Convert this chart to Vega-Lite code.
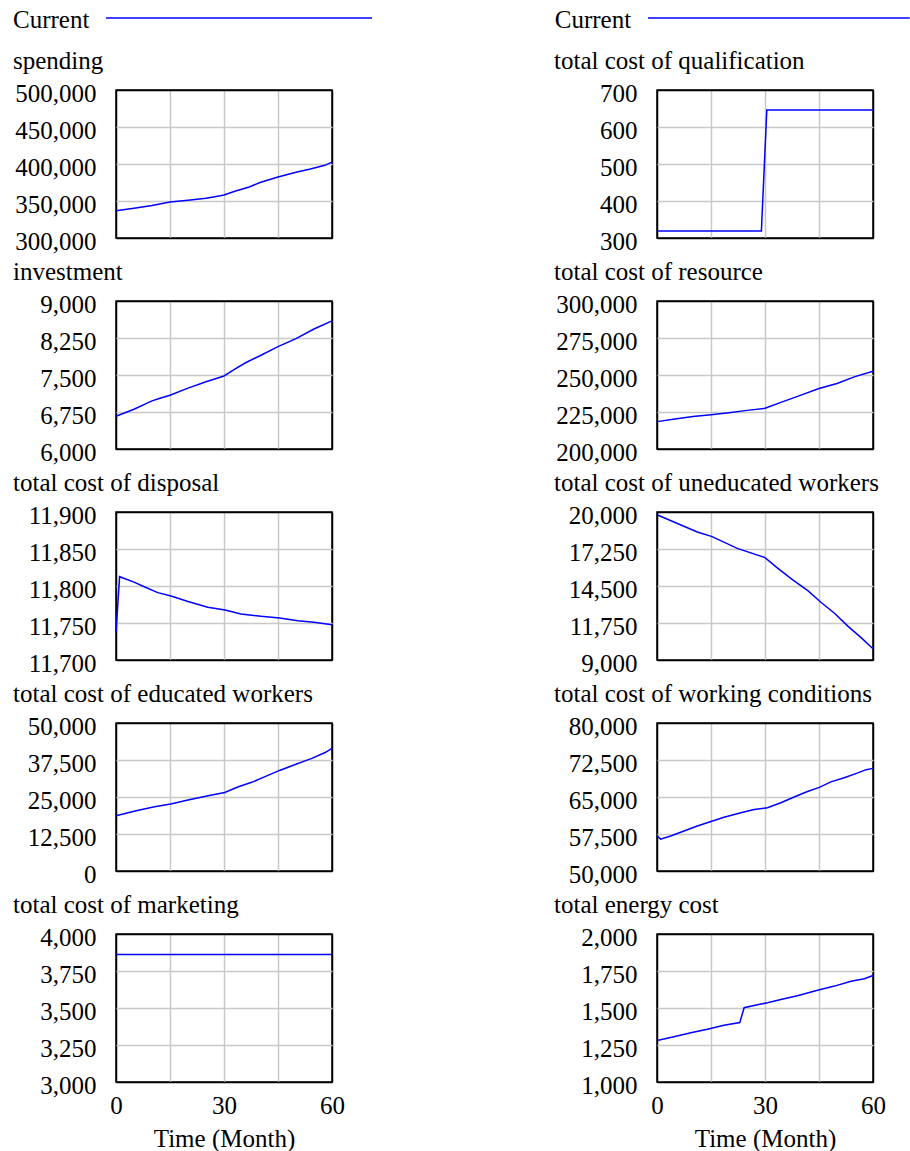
{
  "$schema": "https://vega.github.io/schema/vega-lite/v6.json",
  "background": "white",
  "padding": {"left": 12, "top": 8, "right": 0, "bottom": 0},
  "datasets": {
    "spending": [{"t":0,"v":336800},{"t":5,"v":340100},{"t":10,"v":343900},{"t":15,"v":348600},{"t":20,"v":350900},{"t":25,"v":353600},{"t":29,"v":357000},{"t":30,"v":358000},{"t":33,"v":363100},{"t":37,"v":369000},{"t":40,"v":375000},{"t":45,"v":382400},{"t":50,"v":388800},{"t":54,"v":393200},{"t":58,"v":398200},{"t":60,"v":402600}],
    "investment": [{"t":0,"v":6663},{"t":5,"v":6805},{"t":10,"v":6975},{"t":12,"v":7023},{"t":15,"v":7091},{"t":20,"v":7234},{"t":25,"v":7364},{"t":30,"v":7480},{"t":33,"v":7617},{"t":36,"v":7748},{"t":40,"v":7891},{"t":45,"v":8074},{"t":50,"v":8237},{"t":55,"v":8433},{"t":60,"v":8596}],
    "disposal": [{"t":0,"v":11737},{"t":1,"v":11812.6},{"t":5,"v":11805.2},{"t":8,"v":11798.7},{"t":11.6,"v":11791},{"t":15.3,"v":11786.4},{"t":20,"v":11779},{"t":25.5,"v":11771.4},{"t":30.3,"v":11767.7},{"t":34.7,"v":11762.3},{"t":40.3,"v":11759.1},{"t":45.4,"v":11756.8},{"t":50.5,"v":11753.2},{"t":55,"v":11751},{"t":60,"v":11747.7}],
    "educated": [{"t":0,"v":18640},{"t":5.6,"v":20340},{"t":10.7,"v":21700},{"t":15.2,"v":22610},{"t":20,"v":23980},{"t":25.6,"v":25430},{"t":30.2,"v":26510},{"t":34,"v":28450},{"t":37.7,"v":29960},{"t":41.4,"v":31900},{"t":45.6,"v":34060},{"t":49.8,"v":36000},{"t":54.4,"v":38050},{"t":58.1,"v":40020},{"t":60,"v":41450}],
    "marketing": [{"t":0,"v":3862},{"t":30,"v":3862},{"t":60,"v":3862}],
    "qualification": [{"t":0,"v":319},{"t":29,"v":319},{"t":30.5,"v":646},{"t":60,"v":646}],
    "resource": [{"t":0,"v":218500},{"t":5,"v":220200},{"t":10,"v":221900},{"t":15,"v":223100},{"t":20,"v":224500},{"t":25,"v":226100},{"t":30,"v":227500},{"t":35,"v":232000},{"t":40,"v":236400},{"t":45,"v":240900},{"t":50,"v":244300},{"t":55,"v":248900},{"t":60,"v":252500}],
    "uneducated": [{"t":0,"v":19800},{"t":11.2,"v":18514},{"t":15.3,"v":18173},{"t":22.3,"v":17299},{"t":30,"v":16610},{"t":33.5,"v":15828},{"t":37.7,"v":14950},{"t":41.9,"v":14150},{"t":45.6,"v":13275},{"t":49.3,"v":12475},{"t":53,"v":11517},{"t":56.7,"v":10661},{"t":60,"v":9831}],
    "working": [{"t":0,"v":57153},{"t":1,"v":56458},{"t":4,"v":57153},{"t":7.5,"v":58114},{"t":11,"v":59068},{"t":15,"v":60023},{"t":18.6,"v":60909},{"t":23.3,"v":61795},{"t":27,"v":62477},{"t":30.7,"v":62818},{"t":34.4,"v":63841},{"t":38.1,"v":65000},{"t":41.8,"v":66109},{"t":45.1,"v":66957},{"t":48.3,"v":68065},{"t":52,"v":68913},{"t":55.8,"v":69891},{"t":58.1,"v":70543},{"t":60,"v":70800}],
    "energy": [{"t":0,"v":1281},{"t":4.7,"v":1306},{"t":9.4,"v":1333},{"t":14,"v":1357},{"t":18.6,"v":1384},{"t":23,"v":1402},{"t":24.2,"v":1502},{"t":27.9,"v":1522},{"t":30.7,"v":1535},{"t":34.4,"v":1557},{"t":39,"v":1583},{"t":44.6,"v":1620},{"t":49.3,"v":1648},{"t":53.9,"v":1681},{"t":57.6,"v":1698},{"t":60,"v":1720}],
    "legend": [{"series":"Current"}]
  },
  "spacing": 180,
  "hconcat": [
    {
      "spacing": 4,
      "vconcat": [
        {
          "width": 216, "height": 26, "view": {"stroke": null},
          "data": {"name": "legend"},
          "layer": [
            {"mark": {"type": "text", "align": "left", "baseline": "alphabetic", "fontSize": 25, "font": "Liberation Serif", "color": "black"},
             "encoding": {"x": {"datum": -28.6, "type": "quantitative", "scale": {"domain": [0, 60], "nice": false, "zero": false}, "axis": null},
                          "y": {"datum": 16, "type": "quantitative", "scale": {"domain": [0, 26], "nice": false}, "axis": null},
                          "text": {"field": "series"}}},
            {"mark": {"type": "rule", "color": "#0000ff", "strokeWidth": 1.5},
             "encoding": {"x": {"datum": -2.8, "type": "quantitative"}, "x2": {"datum": 71.1}, "y": {"datum": 26, "type": "quantitative"}}}
          ]
        },
        {
          "width": 216, "height": 148, "title": "spending",
          "data": {"name": "spending"},
          "mark": {"type": "line", "color": "#0000ff", "strokeWidth": 1.5},
          "encoding": {
            "x": {"field": "t", "type": "quantitative", "scale": {"domain": [0, 60], "nice": false}, "axis": {"values": [0, 15, 30, 45, 60], "labels": false, "title": null, "gridColor": {"condition": {"test": "datum.value == 0 || datum.value == 60", "value": "black"}, "value": "#c8c8c8"}}},
            "y": {"field": "v", "type": "quantitative", "scale": {"domain": [300000, 500000], "nice": false, "zero": false}, "axis": {"values": [300000, 350000, 400000, 450000, 500000], "format": ",.0f", "title": null, "gridColor": {"condition": {"test": "datum.value == 300000 || datum.value == 500000", "value": "black"}, "value": "#c8c8c8"}}}
          }
        },
        {
          "width": 216, "height": 148, "title": "investment",
          "data": {"name": "investment"},
          "mark": {"type": "line", "color": "#0000ff", "strokeWidth": 1.5},
          "encoding": {
            "x": {"field": "t", "type": "quantitative", "scale": {"domain": [0, 60], "nice": false}, "axis": {"values": [0, 15, 30, 45, 60], "labels": false, "title": null, "gridColor": {"condition": {"test": "datum.value == 0 || datum.value == 60", "value": "black"}, "value": "#c8c8c8"}}},
            "y": {"field": "v", "type": "quantitative", "scale": {"domain": [6000, 9000], "nice": false, "zero": false}, "axis": {"values": [6000, 6750, 7500, 8250, 9000], "format": ",.0f", "title": null, "gridColor": {"condition": {"test": "datum.value == 6000 || datum.value == 9000", "value": "black"}, "value": "#c8c8c8"}}}
          }
        },
        {
          "width": 216, "height": 148, "title": "total cost of disposal",
          "data": {"name": "disposal"},
          "mark": {"type": "line", "color": "#0000ff", "strokeWidth": 1.5},
          "encoding": {
            "x": {"field": "t", "type": "quantitative", "scale": {"domain": [0, 60], "nice": false}, "axis": {"values": [0, 15, 30, 45, 60], "labels": false, "title": null, "gridColor": {"condition": {"test": "datum.value == 0 || datum.value == 60", "value": "black"}, "value": "#c8c8c8"}}},
            "y": {"field": "v", "type": "quantitative", "scale": {"domain": [11700, 11900], "nice": false, "zero": false}, "axis": {"values": [11700, 11750, 11800, 11850, 11900], "format": ",.0f", "title": null, "gridColor": {"condition": {"test": "datum.value == 11700 || datum.value == 11900", "value": "black"}, "value": "#c8c8c8"}}}
          }
        },
        {
          "width": 216, "height": 148, "title": "total cost of educated workers",
          "data": {"name": "educated"},
          "mark": {"type": "line", "color": "#0000ff", "strokeWidth": 1.5},
          "encoding": {
            "x": {"field": "t", "type": "quantitative", "scale": {"domain": [0, 60], "nice": false}, "axis": {"values": [0, 15, 30, 45, 60], "labels": false, "title": null, "gridColor": {"condition": {"test": "datum.value == 0 || datum.value == 60", "value": "black"}, "value": "#c8c8c8"}}},
            "y": {"field": "v", "type": "quantitative", "scale": {"domain": [0, 50000], "nice": false}, "axis": {"values": [0, 12500, 25000, 37500, 50000], "format": ",.0f", "title": null, "gridColor": {"condition": {"test": "datum.value == 0 || datum.value == 50000", "value": "black"}, "value": "#c8c8c8"}}}
          }
        },
        {
          "width": 216, "height": 148, "title": "total cost of marketing",
          "data": {"name": "marketing"},
          "mark": {"type": "line", "color": "#0000ff", "strokeWidth": 1.5},
          "encoding": {
            "x": {"field": "t", "type": "quantitative", "scale": {"domain": [0, 60], "nice": false}, "axis": {"values": [0, 15, 30, 45, 60], "labelExpr": "datum.value % 30 == 0 ? datum.label : ''", "labelFlush": false, "labelPadding": 11, "title": "Time (Month)", "titlePadding": 8, "gridColor": {"condition": {"test": "datum.value == 0 || datum.value == 60", "value": "black"}, "value": "#c8c8c8"}}},
            "y": {"field": "v", "type": "quantitative", "scale": {"domain": [3000, 4000], "nice": false, "zero": false}, "axis": {"values": [3000, 3250, 3500, 3750, 4000], "format": ",.0f", "title": null, "gridColor": {"condition": {"test": "datum.value == 3000 || datum.value == 4000", "value": "black"}, "value": "#c8c8c8"}}}
          }
        }
      ]
    },
    {
      "spacing": 4,
      "vconcat": [
        {
          "width": 216, "height": 26, "view": {"stroke": null},
          "data": {"name": "legend"},
          "layer": [
            {"mark": {"type": "text", "align": "left", "baseline": "alphabetic", "fontSize": 25, "font": "Liberation Serif", "color": "black"},
             "encoding": {"x": {"datum": -28.4, "type": "quantitative", "scale": {"domain": [0, 60], "nice": false, "zero": false}, "axis": null},
                          "y": {"datum": 16, "type": "quantitative", "scale": {"domain": [0, 26], "nice": false}, "axis": null},
                          "text": {"field": "series"}}},
            {"mark": {"type": "rule", "color": "#0000ff", "strokeWidth": 1.5},
             "encoding": {"x": {"datum": -2.5, "type": "quantitative"}, "x2": {"datum": 70.2}, "y": {"datum": 26, "type": "quantitative"}}}
          ]
        },
        {
          "width": 216, "height": 148, "title": "total cost of qualification",
          "data": {"name": "qualification"},
          "mark": {"type": "line", "color": "#0000ff", "strokeWidth": 1.5},
          "encoding": {
            "x": {"field": "t", "type": "quantitative", "scale": {"domain": [0, 60], "nice": false}, "axis": {"values": [0, 15, 30, 45, 60], "labels": false, "title": null, "gridColor": {"condition": {"test": "datum.value == 0 || datum.value == 60", "value": "black"}, "value": "#c8c8c8"}}},
            "y": {"field": "v", "type": "quantitative", "scale": {"domain": [300, 700], "nice": false, "zero": false}, "axis": {"values": [300, 400, 500, 600, 700], "format": ",.0f", "title": null, "gridColor": {"condition": {"test": "datum.value == 300 || datum.value == 700", "value": "black"}, "value": "#c8c8c8"}}}
          }
        },
        {
          "width": 216, "height": 148, "title": "total cost of resource",
          "data": {"name": "resource"},
          "mark": {"type": "line", "color": "#0000ff", "strokeWidth": 1.5},
          "encoding": {
            "x": {"field": "t", "type": "quantitative", "scale": {"domain": [0, 60], "nice": false}, "axis": {"values": [0, 15, 30, 45, 60], "labels": false, "title": null, "gridColor": {"condition": {"test": "datum.value == 0 || datum.value == 60", "value": "black"}, "value": "#c8c8c8"}}},
            "y": {"field": "v", "type": "quantitative", "scale": {"domain": [200000, 300000], "nice": false, "zero": false}, "axis": {"values": [200000, 225000, 250000, 275000, 300000], "format": ",.0f", "title": null, "gridColor": {"condition": {"test": "datum.value == 200000 || datum.value == 300000", "value": "black"}, "value": "#c8c8c8"}}}
          }
        },
        {
          "width": 216, "height": 148, "title": "total cost of uneducated workers",
          "data": {"name": "uneducated"},
          "mark": {"type": "line", "color": "#0000ff", "strokeWidth": 1.5},
          "encoding": {
            "x": {"field": "t", "type": "quantitative", "scale": {"domain": [0, 60], "nice": false}, "axis": {"values": [0, 15, 30, 45, 60], "labels": false, "title": null, "gridColor": {"condition": {"test": "datum.value == 0 || datum.value == 60", "value": "black"}, "value": "#c8c8c8"}}},
            "y": {"field": "v", "type": "quantitative", "scale": {"domain": [9000, 20000], "nice": false, "zero": false}, "axis": {"values": [9000, 11750, 14500, 17250, 20000], "format": ",.0f", "title": null, "gridColor": {"condition": {"test": "datum.value == 9000 || datum.value == 20000", "value": "black"}, "value": "#c8c8c8"}}}
          }
        },
        {
          "width": 216, "height": 148, "title": "total cost of working conditions",
          "data": {"name": "working"},
          "mark": {"type": "line", "color": "#0000ff", "strokeWidth": 1.5},
          "encoding": {
            "x": {"field": "t", "type": "quantitative", "scale": {"domain": [0, 60], "nice": false}, "axis": {"values": [0, 15, 30, 45, 60], "labels": false, "title": null, "gridColor": {"condition": {"test": "datum.value == 0 || datum.value == 60", "value": "black"}, "value": "#c8c8c8"}}},
            "y": {"field": "v", "type": "quantitative", "scale": {"domain": [50000, 80000], "nice": false, "zero": false}, "axis": {"values": [50000, 57500, 65000, 72500, 80000], "format": ",.0f", "title": null, "gridColor": {"condition": {"test": "datum.value == 50000 || datum.value == 80000", "value": "black"}, "value": "#c8c8c8"}}}
          }
        },
        {
          "width": 216, "height": 148, "title": "total energy cost",
          "data": {"name": "energy"},
          "mark": {"type": "line", "color": "#0000ff", "strokeWidth": 1.5},
          "encoding": {
            "x": {"field": "t", "type": "quantitative", "scale": {"domain": [0, 60], "nice": false}, "axis": {"values": [0, 15, 30, 45, 60], "labelExpr": "datum.value % 30 == 0 ? datum.label : ''", "labelFlush": false, "labelPadding": 11, "title": "Time (Month)", "titlePadding": 8, "gridColor": {"condition": {"test": "datum.value == 0 || datum.value == 60", "value": "black"}, "value": "#c8c8c8"}}},
            "y": {"field": "v", "type": "quantitative", "scale": {"domain": [1000, 2000], "nice": false, "zero": false}, "axis": {"values": [1000, 1250, 1500, 1750, 2000], "format": ",.0f", "title": null, "gridColor": {"condition": {"test": "datum.value == 1000 || datum.value == 2000", "value": "black"}, "value": "#c8c8c8"}}}
          }
        }
      ]
    }
  ],
  "config": {
    "font": "Liberation Serif",
    "view": {"stroke": "black", "strokeWidth": 1.5},
    "axis": {"grid": true, "gridWidth": 1.5, "domain": false, "ticks": false, "tickSize": 0, "labelFont": "Liberation Serif", "labelFontSize": 25, "labelColor": "black", "titleFont": "Liberation Serif", "titleFontSize": 25, "titleFontWeight": "normal", "titleColor": "black"},
    "axisY": {"labelPadding": 20, "labelBaseline": "middle", "labelOffset": 3},
    "title": {"font": "Liberation Serif", "fontSize": 25, "fontWeight": "normal", "color": "black", "anchor": "start", "frame": "group", "dx": -103, "offset": 7}
  }
}
